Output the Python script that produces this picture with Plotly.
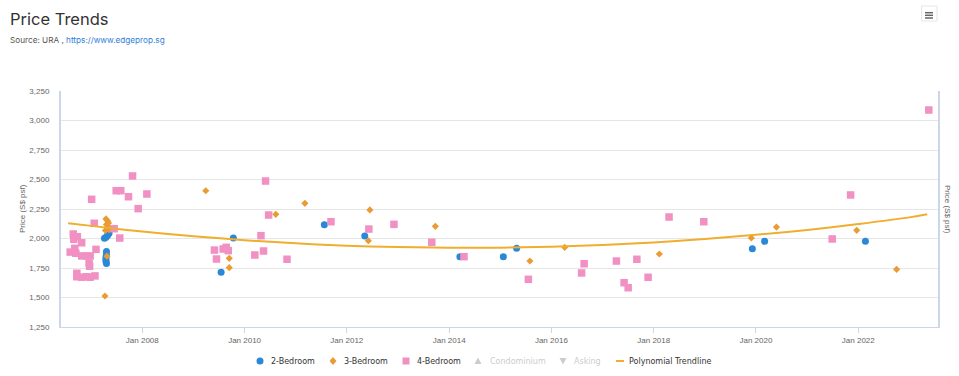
import datetime as dt
import plotly.graph_objects as go

# ---------------- data ----------------
# dates as decimal years
two_bed_dates = [2007.26, 2007.29, 2007.32, 2007.35, 2007.33, 2007.30, 2007.30, 2007.29,
                 2007.29, 2007.29, 2007.30, 2009.54, 2009.78, 2011.56, 2012.35, 2014.21,
                 2015.06, 2015.32, 2019.93, 2020.17, 2022.14]
two_bed_prices = [2003, 2010, 2025, 2045, 2058, 1890, 1865, 1845, 1825, 1805,
                  1788, 1713, 2004, 2117, 2021, 1846, 1846, 1917, 1914, 1976, 1976]

three_bed_dates = [2007.29, 2007.32, 2007.34, 2007.30, 2007.33, 2007.31, 2007.35, 2007.28,
                   2007.31, 2007.27, 2009.24, 2009.70, 2009.70, 2010.61, 2011.18, 2012.45,
                   2012.42, 2013.73, 2015.58, 2016.26, 2018.11, 2019.91, 2020.40, 2021.97,
                   2022.75]
three_bed_prices = [2166, 2150, 2132, 2118, 2102, 2088, 2075, 2068, 1850, 1513,
                    2405, 1832, 1753, 2205, 2298, 2242, 1981, 2103, 1809, 1925,
                    1869, 2005, 2097, 2069, 1739]

four_bed_dates = [2006.59, 2006.65, 2006.66, 2006.73, 2006.68, 2006.70, 2006.72, 2006.72,
                  2006.815, 2006.815, 2006.91, 2006.98, 2006.96, 2006.97, 2006.815, 2006.91,
                  2006.98, 2007.075, 2007.095, 2007.01, 2007.06, 2007.45, 2007.56, 2007.49,
                  2007.58, 2007.73, 2007.81, 2007.92, 2008.09,
                  2009.41, 2009.45, 2009.58, 2009.64, 2009.68, 2010.20, 2010.32, 2010.37,
                  2010.41, 2010.47, 2010.83, 2011.69, 2012.43, 2012.92, 2013.66, 2014.29,
                  2015.55, 2016.59, 2016.64, 2017.27, 2017.42, 2017.50, 2017.67, 2017.89,
                  2018.30, 2018.98, 2021.49, 2021.85, 2023.38]
four_bed_prices = [1885, 2038, 1993, 2015, 1917, 1875, 1705, 1676,
                   1964, 1852, 1852, 1852, 1790, 1765, 1672, 1676,
                   1672, 1683, 1908, 2332, 2129, 2083, 2004, 2405,
                   2405, 2354, 2530, 2253, 2377,
                   1902, 1826, 1911, 1925, 1897, 1860, 2024, 1894,
                   2487, 2199, 1824, 2142, 2080, 2120, 1968, 1846,
                   1654, 1708, 1786, 1809, 1625, 1583, 1824, 1671,
                   2182, 2142, 1996, 2369, 3089]

condo_dates, condo_prices = [], []
asking_dates, asking_prices = [], []

trend_dates = [2006.55, 2007, 2008, 2009, 2010, 2011, 2012, 2013, 2014, 2015,
               2016, 2017, 2018, 2019, 2020, 2021, 2022, 2023, 2023.35]
trend_values = [2130, 2107, 2059, 2019, 1986, 1959, 1939, 1927, 1921, 1922,
                1930, 1945, 1967, 1995, 2031, 2073, 2123, 2179, 2205]

x_tick_years = [2008, 2010, 2012, 2014, 2016, 2018, 2020, 2022]
x_tick_labels = ["Jan 2008", "Jan 2010", "Jan 2012", "Jan 2014",
                 "Jan 2016", "Jan 2018", "Jan 2020", "Jan 2022"]
y_ticks = [1250, 1500, 1750, 2000, 2250, 2500, 2750, 3000, 3250]

legend_names = ["2-Bedroom", "3-Bedroom", "4-Bedroom", "Condominium", "Asking",
                "Polynomial Trendline"]


def to_date(y):
    year = int(y)
    start = dt.datetime(year, 1, 1)
    end = dt.datetime(year + 1, 1, 1)
    return start + (end - start) * (y - year)


def dates(lst):
    return [to_date(v) for v in lst]


BLUE = "#2b88d8"
ORANGE = "#e99c33"
PINK = "#f190c2"
TREND = "#f0ad2e"
GREY_ITEM = "#cccccc"

W, H = 959, 376
L, R, T, B = 61, 938, 91, 327


def px(x):
    return (x - L) / (R - L)


def py(y):
    return (B - y) / (B - T)


fig = go.Figure()
fig.add_trace(go.Scatter(x=dates(two_bed_dates), y=two_bed_prices, mode="markers",
                         name=legend_names[0],
                         marker=dict(symbol="circle", size=7, color=BLUE)))
fig.add_trace(go.Scatter(x=dates(three_bed_dates), y=three_bed_prices, mode="markers",
                         name=legend_names[1],
                         marker=dict(symbol="diamond", size=5.5, color=ORANGE)))
fig.add_trace(go.Scatter(x=dates(four_bed_dates), y=four_bed_prices, mode="markers",
                         name=legend_names[2],
                         marker=dict(symbol="square", size=7.5, color=PINK)))
fig.add_trace(go.Scatter(x=dates(condo_dates), y=condo_prices, mode="markers",
                         name=legend_names[3], visible="legendonly",
                         marker=dict(symbol="triangle-up", size=7, color="#8bbc21")))
fig.add_trace(go.Scatter(x=dates(asking_dates), y=asking_prices, mode="markers",
                         name=legend_names[4], visible="legendonly",
                         marker=dict(symbol="triangle-down", size=7, color="#910000")))
fig.add_trace(go.Scatter(x=dates(trend_dates), y=trend_values, mode="lines",
                         name=legend_names[5], line=dict(color=TREND, width=2, shape="spline")))

FONT = "Liberation Sans, Arial, sans-serif"

fig.update_layout(
    width=W, height=H,
    margin=dict(l=L, r=W - R, t=T, b=H - B, pad=0),
    paper_bgcolor="white", plot_bgcolor="white",
    showlegend=False,
    font=dict(family=FONT, size=8, color="#666666"),
    xaxis=dict(
        range=[to_date(2006.41), to_date(2023.56)],
        tickvals=[dt.datetime(y, 1, 1) for y in x_tick_years],
        ticktext=x_tick_labels,
        showgrid=False, zeroline=False,
        showline=True, linecolor="#ccd6eb", linewidth=1,
        ticks="outside", ticklen=5, tickcolor="#ccd6eb",
        tickfont=dict(family=FONT, size=8, color="#666666"),
    ),
    yaxis=dict(
        range=[1250, 3250], tickvals=y_ticks, tickformat=",",
        showgrid=True, gridcolor="#e6e6e6", gridwidth=1, zeroline=False,
        showline=True, mirror=True, linecolor="#ccd6eb", linewidth=2,
        ticks="", ticklabelstandoff=8,
        tickfont=dict(family=FONT, size=8, color="#666666"),
    ),
)

ann = []
ann.append(dict(text="Price Trends", x=px(8), y=py(19), xref="paper", yref="paper",
                xanchor="left", yanchor="middle", showarrow=False,
                font=dict(family="Inter, sans-serif", size=16.5, color="#333333")))
ann.append(dict(text="Source: URA , <span style='color:#2f7ed8'>https://www.edgeprop.sg</span>",
                x=px(8), y=py(40), xref="paper", yref="paper",
                xanchor="left", yanchor="middle", showarrow=False,
                font=dict(family="Inter, sans-serif", size=8.2, color="#555555")))
ann.append(dict(text="Price (S$ psf)", x=px(22), y=py(209), xref="paper", yref="paper",
                xanchor="center", yanchor="middle", showarrow=False, textangle=-90,
                font=dict(family=FONT, size=8, color="#666666")))
ann.append(dict(text="Price (S$ psf)", x=px(948), y=py(209), xref="paper", yref="paper",
                xanchor="center", yanchor="middle", showarrow=False, textangle=90,
                font=dict(family=FONT, size=8, color="#666666")))

# custom legend
LEG_Y = 361
leg_sym_x = [260, 333, 406, 478, 563, 620]
leg_txt_x = [269, 342, 415, 488, 572, 627]
leg_col = ["#333333", "#333333", "#333333", GREY_ITEM, GREY_ITEM, "#333333"]
for name, tx, col in zip(legend_names, leg_txt_x, leg_col):
    ann.append(dict(text=name, x=px(tx), y=py(LEG_Y), xref="paper", yref="paper",
                    xanchor="left", yanchor="middle", showarrow=False,
                    font=dict(family="DejaVu Sans, sans-serif", size=8, color=col)))

shapes = []
base = dict(xref="paper", yref="paper", xsizemode="pixel", ysizemode="pixel", line_width=0,
            yanchor=py(LEG_Y))
shapes.append(dict(base, type="circle", xanchor=px(leg_sym_x[0]), x0=-3.5, x1=3.5, y0=-3.5, y1=3.5,
                   fillcolor=BLUE))
shapes.append(dict(base, type="path", xanchor=px(leg_sym_x[1]),
                   path="M 0 4 L 3.5 0 L 0 -4 L -3.5 0 Z", fillcolor=ORANGE))
shapes.append(dict(base, type="rect", xanchor=px(leg_sym_x[2]), x0=-3.5, x1=3.5, y0=-3.5, y1=3.5,
                   fillcolor=PINK))
shapes.append(dict(base, type="path", xanchor=px(leg_sym_x[3]),
                   path="M -3.5 -3 L 3.5 -3 L 0 3.5 Z", fillcolor=GREY_ITEM))
shapes.append(dict(base, type="path", xanchor=px(leg_sym_x[4]),
                   path="M -3.5 3 L 3.5 3 L 0 -3.5 Z", fillcolor=GREY_ITEM))
shapes.append(dict(xref="paper", yref="paper", xsizemode="pixel", ysizemode="pixel",
                   type="line", xanchor=px(leg_sym_x[5]), yanchor=py(LEG_Y),
                   x0=-4, x1=4, y0=0, y1=0, line=dict(color=TREND, width=2)))

# context menu button (hamburger)
shapes.append(dict(type="rect", xref="paper", yref="paper", x0=px(921.5), x1=px(937),
                   y0=py(21), y1=py(6), line=dict(color="#e6e6e6", width=1),
                   fillcolor="white"))
for ly in [12.7, 15.3, 18.0]:
    shapes.append(dict(type="line", xref="paper", yref="paper", x0=px(925), x1=px(933),
                       y0=py(ly), y1=py(ly), line=dict(color="#666666", width=1.5)))

fig.update_layout(annotations=ann, shapes=shapes)

fig.write_html("out.html", config={"displayModeBar": False},
               post_script="document.body.style.margin='0';document.body.style.overflow='hidden';")
